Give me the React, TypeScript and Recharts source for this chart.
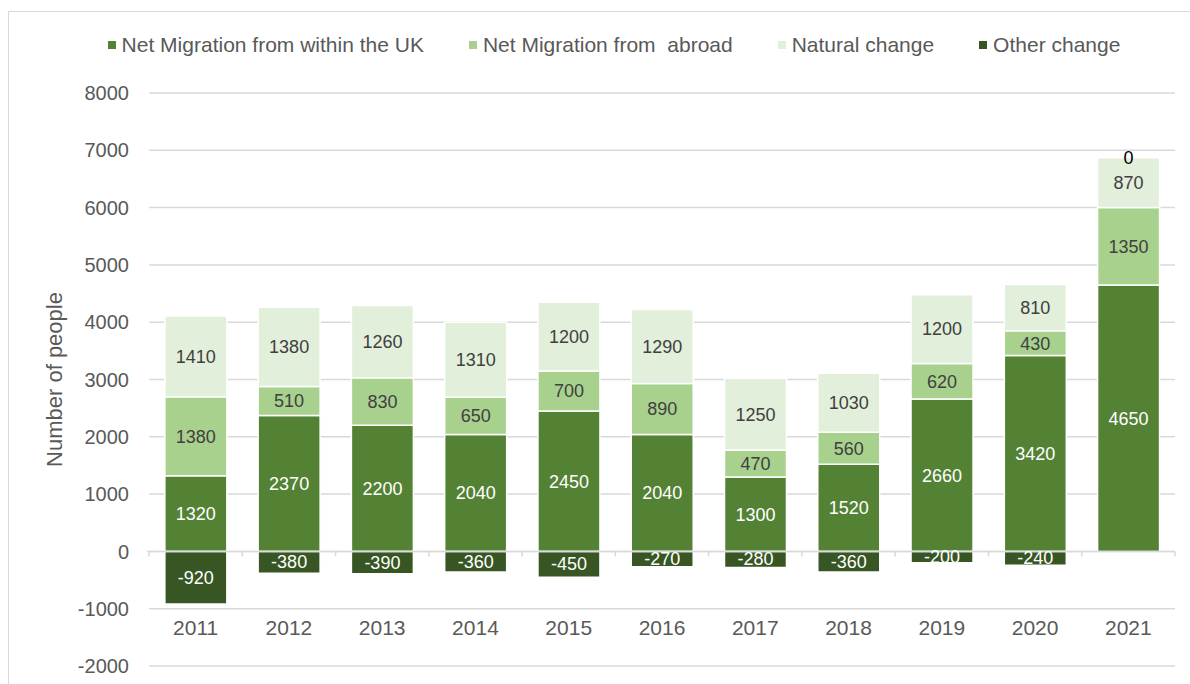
import {
  Bar,
  BarChart,
  CartesianGrid,
  LabelList,
  Legend,
  ReferenceLine,
  XAxis,
  YAxis,
} from 'recharts'

const years = ['2011', '2012', '2013', '2014', '2015', '2016', '2017', '2018', '2019', '2020', '2021']
const withinUk = [1320, 2370, 2200, 2040, 2450, 2040, 1300, 1520, 2660, 3420, 4650]
const fromAbroad = [1380, 510, 830, 650, 700, 890, 470, 560, 620, 430, 1350]
const naturalChange = [1410, 1380, 1260, 1310, 1200, 1290, 1250, 1030, 1200, 810, 870]
const otherChange = [-920, -380, -390, -360, -450, -270, -280, -360, -200, -240, 0]
const yTicks = [-2000, -1000, 0, 1000, 2000, 3000, 4000, 5000, 6000, 7000, 8000]

const seriesNames = ['Net Migration from within the UK', 'Net Migration from  abroad', 'Natural change', 'Other change']
const seriesColors = ['#548235', '#a9d18e', '#e2efda', '#375623']

const chartData = years.map((year, i) => ({
  year,
  withinUk: withinUk[i],
  fromAbroad: fromAbroad[i],
  naturalChange: naturalChange[i],
  otherChange: otherChange[i],
}))

const font = '"Liberation Sans", Arial, sans-serif'
const grey = '#595959'

function YearTick({ x, y, payload }: any) {
  return (
    <text x={x} y={y} dy={-39} textAnchor="middle" fill={grey} fontSize={21} fontFamily={font}>
      {payload.value}
    </text>
  )
}

function ZeroLine(props: any) {
  const { x1, x2, y1 } = props
  const step = (x2 - x1) / years.length
  const marks = Array.from({ length: years.length + 1 }, (_, i) => x1 + i * step)
  return (
    <g>
      <line x1={x1 - 2} x2={x2} y1={y1} y2={y1} stroke="#d9d9d9" strokeWidth={1.5} />
      {marks.map((mx) => (
        <line key={mx} x1={mx} x2={mx} y1={y1} y2={y1 + 5} stroke="#d9d9d9" strokeWidth={1.5} />
      ))}
    </g>
  )
}

function LegendContent() {
  return (
    <div
      style={{
        display: 'flex',
        justifyContent: 'center',
        paddingLeft: 38,
        fontFamily: font,
        fontSize: 21,
        color: grey,
      }}
    >
      {seriesNames.map((name, i) => (
        <div key={name} style={{ display: 'flex', alignItems: 'center', marginRight: i < 3 ? 45 : 0, whiteSpace: 'pre' }}>
          <span style={{ width: 8, height: 8, background: seriesColors[i], marginRight: 6, display: 'inline-block' }} />
          {name}
        </div>
      ))}
    </div>
  )
}

const labelStyle = { fontSize: 18, fontFamily: font }

export default function App() {
  return (
    <div style={{ position: 'absolute', left: 0, top: 0, width: 1190, height: 684, background: '#fff', overflow: 'hidden' }}>
      <div
        style={{
          position: 'absolute',
          left: 8,
          top: 11,
          width: 1300,
          height: 800,
          borderLeft: '1.5px solid #d9d9d9',
          borderTop: '1.5px solid #d9d9d9',
        }}
      />
      <BarChart
        width={1190}
        height={684}
        data={chartData}
        stackOffset="sign"
        barCategoryGap="17%"
        margin={{ top: 93, right: 15, bottom: 0, left: 0 }}
        style={{ position: 'absolute', left: 0, top: 0 }}
      >
        <CartesianGrid horizontal vertical={false} stroke="#d9d9d9" strokeWidth={1.5} />
        <XAxis dataKey="year" height={18} axisLine={false} tickLine={false} tick={<YearTick />} interval={0} />
        <YAxis
          width={149}
          domain={[-2000, 8000]}
          ticks={yTicks}
          interval={0}
          axisLine={false}
          tickLine={false}
          tickMargin={14}
          tick={{ fill: grey, fontSize: 20, fontFamily: font }}
          label={{
            value: 'Number of people',
            angle: -90,
            position: 'insideLeft',
            offset: 54,
            style: { textAnchor: 'middle', fill: grey, fontSize: 22, fontFamily: font },
          }}
        />
        <Legend verticalAlign="middle" wrapperStyle={{ top: 33, left: 0, width: 1190 }} content={<LegendContent />} />
        <Bar dataKey="withinUk" name={seriesNames[0]} stackId="a" fill={seriesColors[0]} stroke="#fff" strokeWidth={1.5} isAnimationActive={false}>
          <LabelList dataKey="withinUk" position="center" fill="#fff" style={labelStyle} />
        </Bar>
        <Bar dataKey="fromAbroad" name={seriesNames[1]} stackId="a" fill={seriesColors[1]} stroke="#fff" strokeWidth={1.5} isAnimationActive={false}>
          <LabelList dataKey="fromAbroad" position="center" fill="#404040" style={labelStyle} />
        </Bar>
        <Bar dataKey="naturalChange" name={seriesNames[2]} stackId="a" fill={seriesColors[2]} stroke="#fff" strokeWidth={1.5} isAnimationActive={false}>
          <LabelList dataKey="naturalChange" position="center" fill="#404040" style={labelStyle} />
          {/* zero "Other change" sits on top of the stack, so its label goes here */}
          <LabelList
            dataKey="otherChange"
            content={(p: any) =>
              p.value === 0 ? (
                <text x={p.x + p.width / 2} y={p.y} dy={6} textAnchor="middle" fill="#000" fontSize={18} fontFamily={font}>
                  {p.value}
                </text>
              ) : null
            }
          />
        </Bar>
        <Bar dataKey="otherChange" name={seriesNames[3]} stackId="a" fill={seriesColors[3]} stroke="#fff" strokeWidth={1.5} isAnimationActive={false}>
          <LabelList
            dataKey="otherChange"
            content={(p: any) =>
              p.value !== 0 ? (
                <text x={p.x + p.width / 2} y={p.y + p.height / 2} dy={6} textAnchor="middle" fill="#fff" fontSize={18} fontFamily={font}>
                  {p.value}
                </text>
              ) : null
            }
          />
        </Bar>
        <ReferenceLine y={0} shape={<ZeroLine />} />
      </BarChart>
    </div>
  )
}
